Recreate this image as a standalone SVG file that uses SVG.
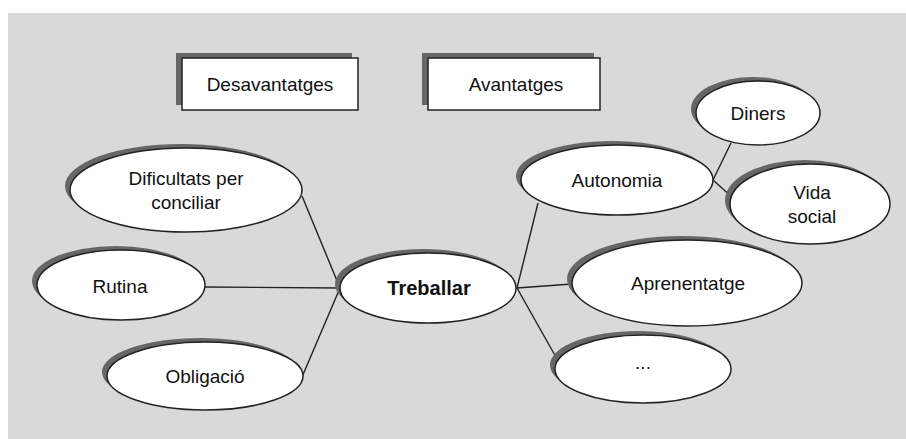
<svg xmlns="http://www.w3.org/2000/svg" width="906" height="439" viewBox="0 0 906 439">
<style>
.sh{fill:#666666;stroke:none}
.nd{fill:#ffffff;stroke:#222222;stroke-width:1.5}
.t{font-family:"Liberation Sans",Arial,sans-serif;font-size:19px;fill:#111111;text-anchor:middle}
.b{font-weight:bold;font-size:20px}
.ln{stroke:#222222;stroke-width:1.4;fill:none}
</style>
<rect x="8" y="13" width="898" height="426" fill="#d9d9d9"/>
<g id="connectors">
<line class="ln" x1="302" y1="196" x2="340" y2="288"/>
<line class="ln" x1="205" y1="287" x2="340" y2="288"/>
<line class="ln" x1="302" y1="377" x2="340" y2="288"/>
<line class="ln" x1="517" y1="288" x2="538" y2="203"/>
<line class="ln" x1="517" y1="288" x2="572" y2="284"/>
<line class="ln" x1="517" y1="288" x2="557" y2="359"/>
<line class="ln" x1="731" y1="143" x2="713" y2="180"/>
<line class="ln" x1="713" y1="180" x2="733" y2="198"/>
</g>
<g id="desavantatges">
<rect class="sh" x="176" y="53" width="176" height="52"/>
<rect class="nd" x="182" y="58" width="176" height="52" stroke-width="1.2"/>
<text class="t" x="270" y="91">Desavantatges</text>
</g>
<g id="avantatges">
<rect class="sh" x="422" y="53" width="172" height="52"/>
<rect class="nd" x="428" y="58" width="172" height="52" stroke-width="1.2"/>
<text class="t" x="516" y="91">Avantatges</text>
</g>
<g id="dificultats">
<ellipse class="sh" cx="181" cy="186" rx="116" ry="42"/>
<ellipse class="nd" cx="186" cy="190" rx="116" ry="42"/>
<text class="t" x="186" y="185">Dificultats per</text>
<text class="t" x="186" y="209">conciliar</text>
</g>
<g id="rutina">
<ellipse class="sh" cx="116" cy="281" rx="84" ry="35"/>
<ellipse class="nd" cx="121" cy="285" rx="84" ry="35"/>
<text class="t" x="120" y="293">Rutina</text>
</g>
<g id="obligacio">
<ellipse class="sh" cx="200" cy="372" rx="98" ry="34"/>
<ellipse class="nd" cx="205" cy="376" rx="98" ry="34"/>
<text class="t" x="205" y="383">Obligació</text>
</g>
<g id="treballar">
<ellipse class="sh" cx="423" cy="284" rx="88" ry="35"/>
<ellipse class="nd" cx="428" cy="288" rx="88" ry="35"/>
<text class="t b" x="429" y="295">Treballar</text>
</g>
<g id="autonomia">
<ellipse class="sh" cx="612" cy="176" rx="96" ry="35"/>
<ellipse class="nd" cx="617" cy="180" rx="96" ry="35"/>
<text class="t" x="617" y="187">Autonomia</text>
</g>
<g id="diners">
<ellipse class="sh" cx="753" cy="109" rx="62" ry="32"/>
<ellipse class="nd" cx="758" cy="113" rx="62" ry="32"/>
<text class="t" x="758" y="120">Diners</text>
</g>
<g id="vida-social">
<ellipse class="sh" cx="805" cy="200" rx="80" ry="40"/>
<ellipse class="nd" cx="810" cy="204" rx="80" ry="40"/>
<text class="t" x="812" y="199">Vida</text>
<text class="t" x="812" y="223">social</text>
</g>
<g id="aprenentatge">
<ellipse class="sh" cx="682" cy="279" rx="115" ry="43"/>
<ellipse class="nd" cx="687" cy="283" rx="115" ry="43"/>
<text class="t" x="688" y="290">Aprenentatge</text>
</g>
<g id="etc">
<ellipse class="sh" cx="638" cy="365" rx="88" ry="34"/>
<ellipse class="nd" cx="643" cy="369" rx="88" ry="34"/>
<text class="t" x="643" y="369">...</text>
</g>
</svg>
